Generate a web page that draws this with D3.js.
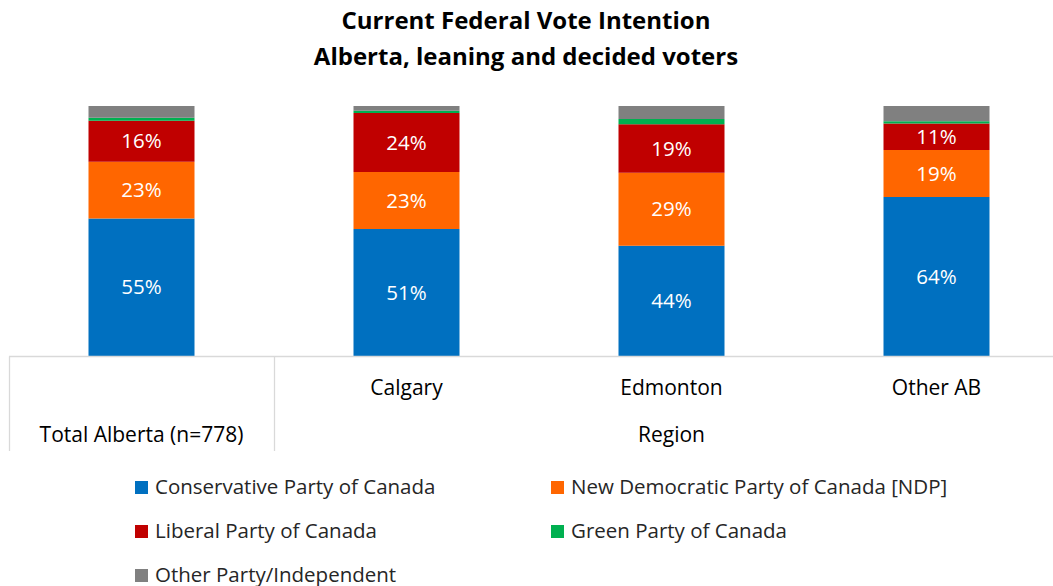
<!DOCTYPE html>
<html>
<head>
<meta charset="utf-8">
<script src="https://cdn.jsdelivr.net/npm/d3@7"></script>
<style>
  body { margin: 0; background: #fff; }
  text { font-family: "Open Sans", sans-serif; }
</style>
</head>
<body>
<svg id="chart" width="1053" height="586"></svg>
<script>
// categories and series (percent of leaning + decided voters)
var categories = ["Total Alberta (n=778)", "Calgary", "Edmonton", "Other AB"];
var parties = ["Conservative Party of Canada", "New Democratic Party of Canada [NDP]",
               "Liberal Party of Canada", "Green Party of Canada", "Other Party/Independent"];
var conservative = [55.0, 50.8, 44.1, 63.6];
var ndp          = [22.7, 22.8, 29.2, 18.8];
var liberal      = [16.4, 23.6, 19.4, 10.6];
var green        = [1.2, 0.9, 2.1, 0.9];
var other        = [4.7, 1.9, 5.2, 6.1];
var colors = ["#0070C0", "#FF6600", "#C00000", "#00B050", "#808080"];
var labelled = [true, true, true, false, false];

var svg = d3.select("#chart");

// title
svg.append("text").attr("x", 526).attr("y", 29).attr("text-anchor", "middle")
    .attr("font-size", 24).attr("font-weight", "bold").attr("fill", "#000")
    .text("Current Federal Vote Intention");
svg.append("text").attr("x", 526).attr("y", 65).attr("text-anchor", "middle")
    .attr("font-size", 24).attr("font-weight", "bold").attr("fill", "#000")
    .text("Alberta, leaning and decided voters");

var table = categories.map(function (c, i) {
    return { cat: c, p0: conservative[i], p1: ndp[i], p2: liberal[i], p3: green[i], p4: other[i] };
});
var keys = ["p0", "p1", "p2", "p3", "p4"];
var stacked = d3.stack().keys(keys)(table);

var x = d3.scaleBand().domain(categories).range([9, 1069]).paddingInner(0.6).paddingOuter(0.3);
var y = d3.scaleLinear().domain([0, 100]).range([356, 106]);

var layers = svg.append("g").selectAll("g").data(stacked).enter().append("g")
    .attr("fill", function (d, i) { return colors[i]; });

layers.selectAll("rect").data(function (d) { return d; }).enter().append("rect")
    .attr("x", function (d) { return x(d.data.cat); })
    .attr("width", x.bandwidth())
    .attr("y", function (d) { return y(d[1]); })
    .attr("height", function (d) { return y(d[0]) - y(d[1]); });

layers.filter(function (d, i) { return labelled[i]; })
    .selectAll("text").data(function (d) { return d; }).enter().append("text")
    .attr("x", function (d) { return x(d.data.cat) + x.bandwidth() / 2; })
    .attr("y", function (d) { return (y(d[0]) + y(d[1])) / 2; })
    .attr("dy", "0.35em")
    .attr("text-anchor", "middle")
    .attr("font-size", 20.5)
    .attr("fill", "#fff")
    .text(function (d) { return Math.round(d[1] - d[0]) + "%"; });

// category axis with two levels
var step = x.step();
var left = x.range()[0];
var axis = svg.append("g").attr("stroke", "#D9D9D9").attr("stroke-width", 1.3);
axis.append("line").attr("x1", left).attr("x2", 1069).attr("y1", 356.5).attr("y2", 356.5);
[0, 1, 4].forEach(function (k) {
    var xx = left + k * step + 0.5;
    axis.append("line").attr("x1", xx).attr("x2", xx).attr("y1", 356.5).attr("y2", 451);
});

svg.selectAll(".cat").data(categories.slice(1)).enter().append("text")
    .attr("class", "cat")
    .attr("x", function (d) { return x(d) + x.bandwidth() / 2; })
    .attr("y", 395).attr("text-anchor", "middle")
    .attr("font-size", 21).attr("fill", "#000")
    .text(function (d) { return d; });

svg.append("text").attr("x", x(categories[0]) + x.bandwidth() / 2).attr("y", 442)
    .attr("text-anchor", "middle").attr("font-size", 21).attr("fill", "#000")
    .text(categories[0]);
svg.append("text").attr("x", left + step + 1.5 * step).attr("y", 442)
    .attr("text-anchor", "middle").attr("font-size", 21).attr("fill", "#000")
    .text("Region");

// legend
var legend = svg.append("g").selectAll("g").data(parties).enter().append("g")
    .attr("transform", function (d, i) {
        return "translate(" + (i % 2 === 0 ? 135 : 551) + "," + (487 + Math.floor(i / 2) * 44) + ")";
    });
legend.append("rect").attr("x", 0).attr("y", -6).attr("width", 13).attr("height", 13)
    .attr("fill", function (d, i) { return colors[i]; });
legend.append("text").attr("x", 20).attr("y", 0).attr("dy", "0.35em")
    .attr("font-size", 20.5).attr("fill", "#262626")
    .text(function (d) { return d; });
</script>
</body>
</html>
